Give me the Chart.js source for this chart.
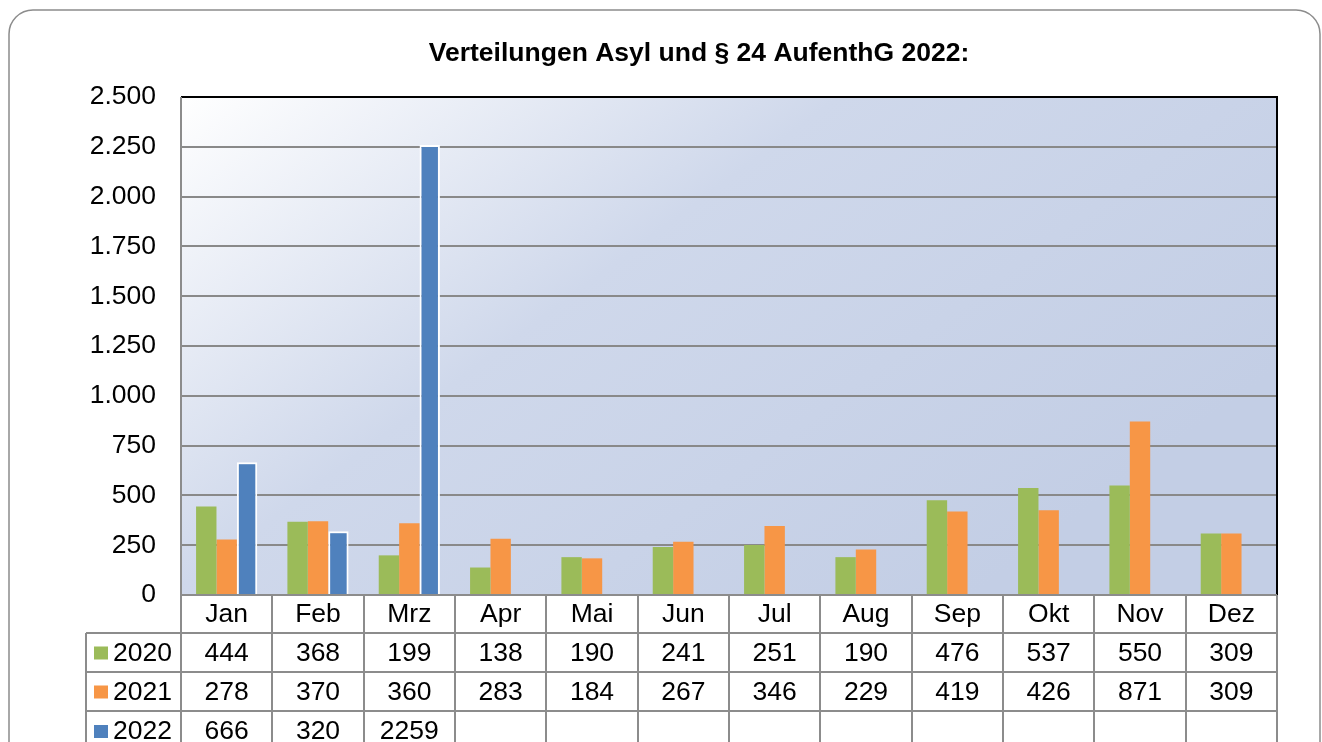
<!DOCTYPE html>
<html>
<head>
<meta charset="utf-8">
<script src="https://cdn.jsdelivr.net/npm/chart.js@4"></script>
<style>
  html, body { margin: 0; padding: 0; background: #ffffff; }
  canvas { display: block; }
</style>
</head>
<body>
<canvas id="grafico" width="1322" height="742"></canvas>
<script>
// Daten
const monate = ['Jan', 'Feb', 'Mrz', 'Apr', 'Mai', 'Jun', 'Jul', 'Aug', 'Sep', 'Okt', 'Nov', 'Dez'];
const jahre = ['2020', '2021', '2022'];
const werte2020 = [444, 368, 199, 138, 190, 241, 251, 190, 476, 537, 550, 309];
const werte2021 = [278, 370, 360, 283, 184, 267, 346, 229, 419, 426, 871, 309];
const werte2022 = [666, 320, 2259];
const yMax = 2500;
const yStep = 250;

const farben = ['#9BBB59', '#F79646', '#4F81BD'];
const schrift = "'Liberation Sans', Arial, sans-serif";

// Hintergrund, Rahmen, Titel und Datentabelle
const zeichnen = {
    id: 'zeichnen',
    beforeDraw(chart) {
        const { ctx, chartArea: a } = chart;
        ctx.save();
        const g = ctx.createLinearGradient(a.left, a.top, a.left + 520, a.top + 700);
        g.addColorStop(0, '#ffffff');
        g.addColorStop(0.45, '#cfd8eb');
        g.addColorStop(1, '#c3cee5');
        ctx.fillStyle = g;
        ctx.fillRect(a.left, a.top, a.right - a.left, a.bottom - a.top);
        ctx.restore();
    },
    afterDraw(chart) {
        const { ctx, chartArea: a } = chart;
        const x = chart.scales.x;
        const breite = (a.right - a.left) / monate.length;
        ctx.save();

        // äußerer Rahmen
        ctx.strokeStyle = '#8c8c8c';
        ctx.lineWidth = 1.5;
        ctx.beginPath();
        ctx.roundRect(9, 10, 1311, 800, 24);
        ctx.stroke();

        // Titel
        ctx.fillStyle = '#000';
        ctx.font = 'bold 26.5px ' + schrift;
        ctx.textAlign = 'center';
        ctx.textBaseline = 'alphabetic';
        ctx.fillText('Verteilungen Asyl und § 24 AufenthG 2022:', 699, 61);

        // Rahmen Diagrammfläche
        ctx.lineWidth = 2;
        ctx.strokeStyle = '#000';
        ctx.beginPath();
        ctx.moveTo(a.left, a.top);
        ctx.lineTo(a.right, a.top);
        ctx.lineTo(a.right, a.bottom);
        ctx.stroke();

        // Tabelle
        const zeilen = [633, 672, 711];
        const unten = 760;
        const links = 86;
        ctx.strokeStyle = '#8c8c8c';
        ctx.beginPath();
        ctx.moveTo(a.left, a.top);
        ctx.lineTo(a.left, unten);
        ctx.moveTo(a.left, a.bottom);
        ctx.lineTo(a.right, a.bottom);
        for (let i = 0; i <= monate.length; i++) {
            const xi = Math.round(a.left + i * breite);
            ctx.moveTo(xi, a.bottom);
            ctx.lineTo(xi, unten);
        }
        zeilen.forEach(y => {
            ctx.moveTo(links, y);
            ctx.lineTo(a.right, y);
        });
        ctx.moveTo(links, zeilen[0]);
        ctx.lineTo(links, unten);
        ctx.stroke();

        ctx.font = '26.5px ' + schrift;
        ctx.textBaseline = 'middle';
        ctx.textAlign = 'center';
        monate.forEach((m, i) => {
            ctx.fillText(m, x.getPixelForValue(i), (a.bottom + zeilen[0]) / 2 + 1);
        });

        const reihen = [werte2020, werte2021, werte2022];
        const mitten = [(zeilen[0] + zeilen[1]) / 2, (zeilen[1] + zeilen[2]) / 2, zeilen[2] + 20];
        reihen.forEach((werte, r) => {
            const ym = mitten[r] + 1;
            ctx.fillStyle = farben[r];
            ctx.fillRect(94, ym - 7, 14, 13);
            ctx.fillStyle = '#000';
            ctx.textAlign = 'left';
            ctx.fillText(jahre[r], 113, ym);
            ctx.textAlign = 'center';
            werte.forEach((v, i) => {
                if (v != null) ctx.fillText(String(v), x.getPixelForValue(i), ym);
            });
        });
        ctx.restore();
    }
};

const ctx = document.getElementById('grafico').getContext('2d');
const diagramm = new Chart(ctx, {
    type: 'bar',
    data: {
        labels: monate,
        datasets: [
            { label: jahre[0], data: werte2020, backgroundColor: farben[0], borderWidth: 0 },
            { label: jahre[1], data: werte2021, backgroundColor: farben[1], borderWidth: 0 },
            { label: jahre[2], data: werte2022, backgroundColor: farben[2], borderColor: '#ffffff', borderWidth: 2 }
        ]
    },
    options: {
        responsive: false,
        animation: false,
        devicePixelRatio: 1,
        layout: { padding: { top: 97, right: 45, left: 0, bottom: 0 } },
        datasets: { bar: { categoryPercentage: 0.67, barPercentage: 1.0 } },
        plugins: {
            legend: { display: false },
            tooltip: { enabled: false }
        },
        scales: {
            x: {
                ticks: { display: false },
                grid: { display: false },
                border: { display: false },
                afterFit(s) { s.height = 147; }
            },
            y: {
                min: 0,
                max: yMax,
                ticks: {
                    stepSize: yStep,
                    padding: 25,
                    color: '#000',
                    font: { family: schrift, size: 26.5 },
                    callback: v => v.toLocaleString('de-DE')
                },
                grid: { color: '#898989', lineWidth: 2, drawTicks: false },
                border: { display: false },
                afterFit(s) { s.width = 181; }
            }
        }
    },
    plugins: [zeichnen]
});
</script>
</body>
</html>
